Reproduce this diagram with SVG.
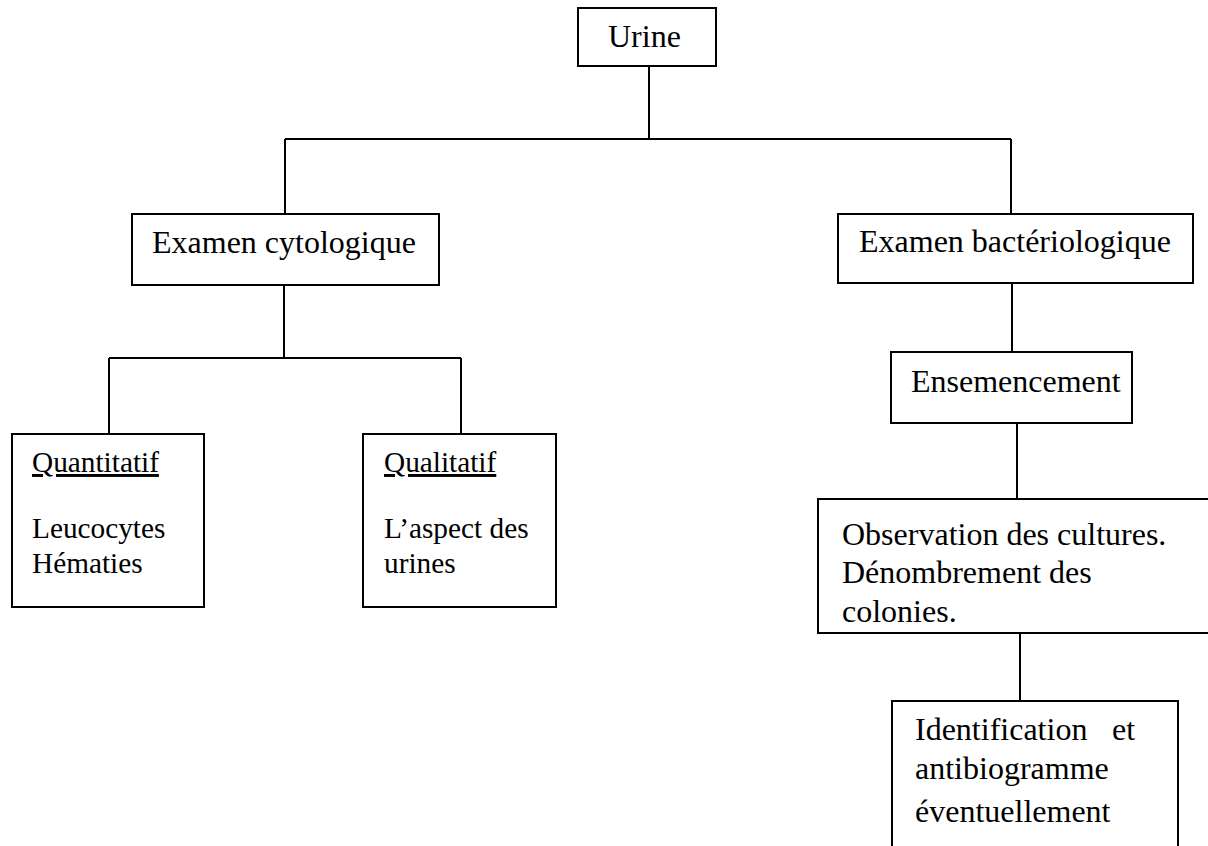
<svg xmlns="http://www.w3.org/2000/svg" width="1208" height="846" viewBox="0 0 1208 846">
<style>
.box{fill:#fff;stroke:#000;stroke-width:2}
.con{fill:none;stroke:#000;stroke-width:2}
text{font-family:"Liberation Serif","Times New Roman",serif;fill:#000}
.t{font-size:32px}
.s{font-size:29.3px}
.u{text-decoration:underline}
</style>
<rect width="1208" height="846" fill="#fff"/>
<g id="connectors">
<path class="con" d="M649 66V139M285 139H1011M285 139V214M1011 139V214"/>
<path class="con" d="M284 285V358M109 358H461M109 358V434M461 358V434"/>
<path class="con" d="M1012 283V352M1017 423V499M1020 633V701"/>
</g>
<g id="urine">
<rect class="box" x="578" y="8" width="138" height="58"/>
<text class="t" x="608" y="47">Urine</text>
</g>
<g id="cyto">
<rect class="box" x="132" y="214" width="307" height="71"/>
<text class="t" x="152" y="253">Examen cytologique</text>
</g>
<g id="bacterio">
<rect class="box" x="838" y="214" width="355" height="69"/>
<text class="t" x="859" y="252">Examen bactériologique</text>
</g>
<g id="quanti">
<rect class="box" x="12" y="434" width="192" height="173"/>
<text class="s u" x="32" y="472">Quantitatif</text>
<text class="s" x="32" y="538">Leucocytes</text>
<text class="s" x="32" y="573">Hématies</text>
</g>
<g id="quali">
<rect class="box" x="363" y="434" width="193" height="173"/>
<text class="s u" x="384" y="472">Qualitatif</text>
<text class="s" x="384" y="538">L’aspect des</text>
<text class="s" x="384" y="573">urines</text>
</g>
<g id="ensemencement">
<rect class="box" x="891" y="352" width="241" height="71"/>
<text class="t" x="911" y="392">Ensemencement</text>
</g>
<g id="observation">
<rect class="box" x="818" y="499" width="400" height="134"/>
<text class="t" x="842" y="545">Observation des cultures.</text>
<text class="t" x="842" y="583">Dénombrement des</text>
<text class="t" x="842" y="622">colonies.</text>
</g>
<g id="identification">
<rect class="box" x="892" y="701" width="286" height="160"/>
<text class="t" x="915" y="740">Identification<tspan x="1112">et</tspan></text>
<text class="t" x="915" y="779">antibiogramme</text>
<text class="t" x="915" y="822">éventuellement</text>
</g>
</svg>
